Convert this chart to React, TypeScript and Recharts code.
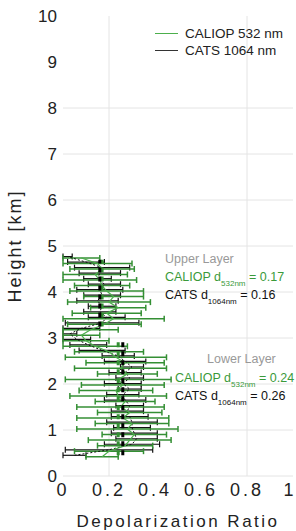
import {
  ComposedChart,
  Scatter,
  ErrorBar,
  XAxis,
  YAxis,
  CartesianGrid,
  Label,
} from 'recharts';

// profile heights in km (CALIOP and CATS bins are offset a little)
const caliopHeights = [0.42, 0.54, 0.66, 0.78, 0.9, 1.02, 1.14, 1.26, 1.38, 1.5, 1.62, 1.74, 1.86, 1.98, 2.1, 2.22, 2.34, 2.46, 2.58, 2.7, 2.82, 2.94, 3.06, 3.18, 3.3, 3.42, 3.54, 3.66, 3.78, 3.9, 4.02, 4.14, 4.26, 4.38, 4.5, 4.62, 4.74];
const caliopValues = [0.17, 0.2, 0.27, 0.29, 0.31, 0.28, 0.3, 0.26, 0.29, 0.25, 0.27, 0.24, 0.23, 0.26, 0.24, 0.28, 0.25, 0.27, 0.23, 0.2, 0.14, 0.1, 0.08, 0.12, 0.18, 0.22, 0.19, 0.24, 0.2, 0.22, 0.19, 0.17, 0.16, 0.14, 0.17, 0.15, 0.08];
const caliopErrors = [0.07, 0.15, 0.12, 0.18, 0.14, 0.22, 0.16, 0.2, 0.14, 0.19, 0.13, 0.21, 0.16, 0.18, 0.23, 0.13, 0.2, 0.17, 0.22, 0.15, 0.14, 0.1, 0.08, 0.12, 0.16, 0.22, 0.15, 0.12, 0.18, 0.13, 0.16, 0.12, 0.16, 0.14, 0.14, 0.15, 0.08];

const catsHeights = [0.45, 0.57, 0.69, 0.81, 0.93, 1.05, 1.17, 1.29, 1.41, 1.53, 1.65, 1.77, 1.89, 2.01, 2.13, 2.25, 2.37, 2.49, 2.61, 2.73, 2.85, 2.97, 3.09, 3.21, 3.33, 3.45, 3.57, 3.69, 3.81, 3.93, 4.05, 4.17, 4.29, 4.41, 4.53, 4.65, 4.77];
const catsValues = [0.05, 0.2, 0.3, 0.32, 0.31, 0.3, 0.3, 0.29, 0.28, 0.29, 0.27, 0.26, 0.29, 0.26, 0.29, 0.27, 0.3, 0.27, 0.24, 0.17, 0.11, 0.06, 0.03, 0.08, 0.17, 0.19, 0.16, 0.17, 0.15, 0.17, 0.16, 0.18, 0.15, 0.16, 0.17, 0.1, 0.02];
const catsErrors = [0.05, 0.19, 0.12, 0.09, 0.1, 0.08, 0.11, 0.08, 0.07, 0.06, 0.09, 0.07, 0.05, 0.08, 0.06, 0.07, 0.05, 0.09, 0.07, 0.1, 0.08, 0.06, 0.03, 0.08, 0.16, 0.08, 0.07, 0.06, 0.09, 0.08, 0.1, 0.07, 0.06, 0.09, 0.12, 0.08, 0.02];

// layer means and their height ranges
const lowerLayer = [0.45, 2.95];
const upperLayer = [3.25, 4.7];
const caliopMeans = [0.24, 0.17]; // lower, upper
const catsMeans = [0.26, 0.16];

const xTicks = [0, 0.2, 0.4, 0.6, 0.8, 1];
const yTicks = [0, 1, 2, 3, 4, 5, 6, 7, 8, 9, 10];
const gridHeights = [0, 1, 2, 3, 4, 5, 6, 7, 8];
const gridRatios = [0.2, 0.8];

const GREEN = '#348f34';
const FONT = '"Liberation Sans", Arial, sans-serif';

const caliopData = caliopHeights.map((h, i) => ({ h, v: caliopValues[i], e: caliopErrors[i] }));
const catsData = catsHeights.map((h, i) => ({ h, v: catsValues[i], e: catsErrors[i] }));

const segment = (v: number, range: number[]) => [
  { v, h: range[0] },
  { v, h: range[1] },
];

const noDot = () => <g />;

const Sub = ({ children }: any) => (
  <sub style={{ fontSize: 8, verticalAlign: -5, lineHeight: 0 }}>{children}</sub>
);

const note = (top: number, left: number, color: string): any => ({
  position: 'absolute',
  top,
  left,
  fontSize: 12.5,
  color,
  whiteSpace: 'nowrap',
  lineHeight: '14px',
});

export default function App() {
  return (
    <div style={{ position: 'absolute', left: 0, top: 0, width: 296, height: 531, fontFamily: FONT, background: '#fff' }}>
      <ComposedChart width={296} height={531} margin={{ top: 16, right: 3, bottom: 0, left: 0 }}>
        <CartesianGrid
          stroke="#e4e4e4"
          horizontalValues={gridHeights}
          verticalValues={gridRatios}
        />
        <XAxis
          type="number"
          dataKey="v"
          domain={[0, 1]}
          allowDataOverflow
          ticks={xTicks}
          height={55}
          axisLine={false}
          tickLine={false}
          tickMargin={1}
          tick={{ fontSize: 18, fill: '#222', fontFamily: FONT, letterSpacing: 3 }}
        >
          <Label
            content={() => (
              <text x={178} y={527} textAnchor="middle" fontSize={17} fill="#222" fontFamily={FONT} letterSpacing={2.5}>
                Depolarization Ratio
              </text>
            )}
          />
        </XAxis>
        <YAxis
          type="number"
          dataKey="h"
          domain={[0, 10]}
          allowDataOverflow
          ticks={yTicks}
          width={63}
          axisLine={false}
          tickLine={false}
          tickMargin={0}
          tick={{ fontSize: 17, fill: '#222', fontFamily: FONT }}
        >
          <Label
            content={() => (
              <text x={21} y={246} textAnchor="middle" fontSize={18} fill="#222" fontFamily={FONT} letterSpacing={2} transform="rotate(-90 21 246)">
                Height [km]
              </text>
            )}
          />
        </YAxis>

        <Scatter
          data={catsData}
          shape={noDot}
          line={{ stroke: '#111', strokeWidth: 1, strokeDasharray: '2 2' }}
          isAnimationActive={false}
        >
          <ErrorBar dataKey="e" direction="x" width={3} stroke="#111" strokeWidth={1.2} />
        </Scatter>
        <Scatter
          data={caliopData}
          shape={noDot}
          line={{ stroke: '#4caf4c', strokeWidth: 1.2 }}
          isAnimationActive={false}
        >
          <ErrorBar dataKey="e" direction="x" width={3} stroke={GREEN} strokeWidth={1.5} />
        </Scatter>

        <Scatter data={segment(caliopMeans[0], lowerLayer)} shape={noDot} line={{ stroke: GREEN, strokeWidth: 3, strokeDasharray: '5 4' }} isAnimationActive={false} />
        <Scatter data={segment(caliopMeans[1], upperLayer)} shape={noDot} line={{ stroke: GREEN, strokeWidth: 3, strokeDasharray: '5 4' }} isAnimationActive={false} />
        <Scatter data={segment(catsMeans[0], lowerLayer)} shape={noDot} line={{ stroke: '#000', strokeWidth: 3, strokeDasharray: '5 4' }} isAnimationActive={false} />
        <Scatter data={segment(catsMeans[1], upperLayer)} shape={noDot} line={{ stroke: '#000', strokeWidth: 3, strokeDasharray: '5 4' }} isAnimationActive={false} />
      </ComposedChart>

      {/* legend */}
      <div style={{ position: 'absolute', top: 25, left: 155, fontSize: 13.5, color: '#222', lineHeight: '17px' }}>
        <div style={{ display: 'flex', alignItems: 'center' }}>
          <span style={{ width: 23, height: 0, borderTop: '1px solid #4caf4c', marginRight: 7 }} />
          CALIOP 532 nm
        </div>
        <div style={{ display: 'flex', alignItems: 'center' }}>
          <span style={{ width: 23, height: 0, borderTop: '1px solid #333', marginRight: 7 }} />
          CATS 1064 nm
        </div>
      </div>

      {/* layer annotations */}
      <div style={note(252, 165, '#999')}>Upper Layer</div>
      <div style={note(270, 165, '#3a9a3a')}>CALIOP d<Sub>532nm</Sub> = 0.17</div>
      <div style={note(288, 165, '#111')}>CATS d<Sub>1064nm</Sub> = 0.16</div>
      <div style={note(352, 207, '#999')}>Lower Layer</div>
      <div style={note(371, 175, '#3a9a3a')}>CALIOP d<Sub>532nm</Sub> = 0.24</div>
      <div style={note(389, 175, '#111')}>CATS d<Sub>1064nm</Sub> = 0.26</div>
    </div>
  );
}
